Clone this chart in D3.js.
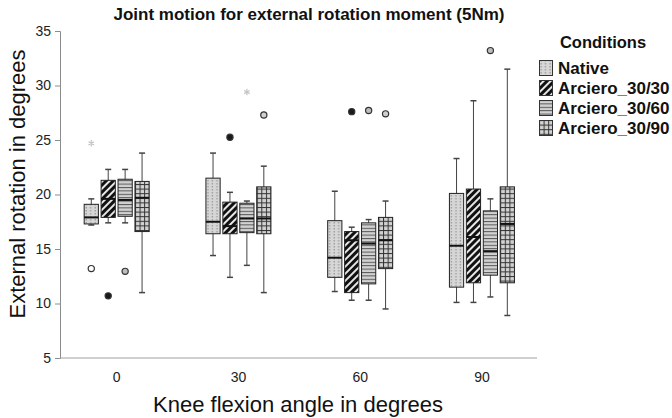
<!DOCTYPE html>
<html>
<head>
<meta charset="utf-8">
<script src="https://cdn.jsdelivr.net/npm/d3@7"></script>
<style>
  body { margin: 0; background: #fff; }
  text { font-family: "Liberation Sans", Arial, sans-serif; }
</style>
</head>
<body>
<script>
const largura = 672;
const altura = 418;

// dados
const angulos = ["0", "30", "60", "90"];
const condicoes = ["Native", "Arciero_30/30", "Arciero_30/60", "Arciero_30/90"];
const yTicks = [5, 10, 15, 20, 25, 30, 35];

// cada linha = condicao, cada coluna = angulo
const bigodeMin = [
  [17.2, 14.4, 11.1, 10.1],
  [17.4, 12.4, 10.3, 10.1],
  [17.4, 13.5, 10.3, 10.6],
  [11.0, 11.0, 9.5, 8.9]
];
const q1 = [
  [17.3, 16.4, 12.4, 11.5],
  [17.9, 16.4, 11.0, 11.9],
  [18.0, 16.5, 11.8, 12.6],
  [16.6, 16.4, 13.2, 11.9]
];
const mediana = [
  [17.9, 17.5, 14.2, 15.3],
  [19.6, 17.1, 15.8, 16.1],
  [19.5, 17.8, 15.5, 14.8],
  [19.7, 17.8, 15.8, 17.3]
];
const q3 = [
  [19.1, 21.5, 17.6, 20.1],
  [21.3, 19.3, 16.6, 20.5],
  [21.4, 19.2, 17.4, 18.5],
  [21.2, 20.7, 17.9, 20.7]
];
const bigodeMax = [
  [19.6, 23.8, 20.3, 23.3],
  [22.3, 20.2, 17.0, 28.6],
  [22.3, 19.4, 17.7, 19.6],
  [23.8, 22.6, 19.4, 31.5]
];
// [angulo, condicao, valor]
const outliers = [
  ["0", 0, 13.2], ["0", 1, 10.7], ["0", 2, 12.95],
  ["30", 1, 25.25], ["30", 3, 27.3],
  ["60", 1, 27.6], ["60", 2, 27.7], ["60", 3, 27.4],
  ["90", 2, 33.2]
];
const extremos = [
  ["0", 0, 24.7], ["30", 2, 29.4]
];

const corOutlier = ["#ffffff", "#1a1a1a", "#bdbdbd", "#cfcfcf"];

const svg = d3.select("body").append("svg")
  .attr("width", largura)
  .attr("height", altura);

// padroes de preenchimento
const defs = svg.append("defs");

const pNative = defs.append("pattern").attr("id", "p0")
  .attr("patternUnits", "userSpaceOnUse").attr("width", 4.5).attr("height", 3);
pNative.append("rect").attr("width", 4.5).attr("height", 3).attr("fill", "#d6d6d6");
pNative.append("rect").attr("x", 1.5).attr("y", 0).attr("width", 1).attr("height", 1.5).attr("fill", "#8a8a8a");

const pDiag = defs.append("pattern").attr("id", "p1")
  .attr("patternUnits", "userSpaceOnUse").attr("width", 5).attr("height", 5)
  .attr("patternTransform", "rotate(45)");
pDiag.append("rect").attr("width", 5).attr("height", 5).attr("fill", "#e6e6e6");
pDiag.append("rect").attr("width", 3).attr("height", 5).attr("fill", "#111");

const pHoriz = defs.append("pattern").attr("id", "p2")
  .attr("patternUnits", "userSpaceOnUse").attr("width", 4).attr("height", 3.4);
pHoriz.append("rect").attr("width", 4).attr("height", 3.4).attr("fill", "#d2d2d2");
pHoriz.append("rect").attr("y", 0).attr("width", 4).attr("height", 1).attr("fill", "#555");

const pGrid = defs.append("pattern").attr("id", "p3")
  .attr("patternUnits", "userSpaceOnUse").attr("width", 4.6).attr("height", 4.6);
pGrid.append("rect").attr("width", 4.6).attr("height", 4.6).attr("fill", "#d2d2d2");
pGrid.append("rect").attr("width", 4.6).attr("height", 1).attr("fill", "#333");
pGrid.append("rect").attr("width", 1).attr("height", 4.6).attr("fill", "#333");

// escalas
const x = d3.scaleBand().domain(angulos).range([55.8, 542.8]);
const xCond = d3.scaleBand().domain(d3.range(condicoes.length))
  .range([-32.5, 32.5]).paddingInner(0.16);
const y = d3.scaleLinear().domain([5, 35]).range([358, 31]);

// eixo y
const eixoY = svg.append("g")
  .attr("transform", "translate(60,0)")
  .call(d3.axisLeft(y).tickValues(yTicks).tickSize(5).tickPadding(4));
eixoY.select(".domain").attr("stroke", "#8c8c8c");
eixoY.selectAll(".tick line").attr("stroke", "#8c8c8c");
eixoY.selectAll(".tick text")
  .attr("font-size", 14).attr("fill", "#222")
  .attr("font-family", "'Liberation Sans', Arial, sans-serif");

// eixo x
const eixoX = svg.append("g")
  .attr("transform", "translate(0,358)")
  .call(d3.axisBottom(x).tickSize(0).tickPadding(14));
eixoX.select(".domain").remove();
eixoX.selectAll(".tick text")
  .attr("font-size", 14).attr("fill", "#222")
  .attr("font-family", "'Liberation Sans', Arial, sans-serif");
svg.append("line")
  .attr("x1", 60).attr("x2", 537).attr("y1", 358).attr("y2", 358)
  .attr("stroke", "#a0a0a0");

// caixas
const caixas = [];
condicoes.forEach((c, i) => {
  angulos.forEach((a, j) => {
    caixas.push({
      ang: a, cond: i,
      lo: bigodeMin[i][j], q1: q1[i][j], med: mediana[i][j],
      q3: q3[i][j], hi: bigodeMax[i][j]
    });
  });
});

const w = xCond.bandwidth();
const g = svg.append("g").selectAll("g").data(caixas).join("g")
  .attr("transform", d => `translate(${x(d.ang) + x.bandwidth() / 2 + xCond(d.cond)},0)`);

g.append("line")
  .attr("x1", w / 2).attr("x2", w / 2)
  .attr("y1", d => y(d.hi)).attr("y2", d => y(d.lo))
  .attr("stroke", "#444");
g.append("line")
  .attr("x1", w / 2 - 3).attr("x2", w / 2 + 3)
  .attr("y1", d => y(d.hi)).attr("y2", d => y(d.hi))
  .attr("stroke", "#444").attr("stroke-width", 1.5);
g.append("line")
  .attr("x1", w / 2 - 3).attr("x2", w / 2 + 3)
  .attr("y1", d => y(d.lo)).attr("y2", d => y(d.lo))
  .attr("stroke", "#444").attr("stroke-width", 1.5);
g.append("rect")
  .attr("x", 0).attr("width", w)
  .attr("y", d => y(d.q3)).attr("height", d => y(d.q1) - y(d.q3))
  .attr("fill", d => `url(#p${d.cond})`)
  .attr("stroke", "#222").attr("stroke-width", 1);
g.append("line")
  .attr("x1", 0).attr("x2", w)
  .attr("y1", d => y(d.med)).attr("y2", d => y(d.med))
  .attr("stroke", "#111").attr("stroke-width", 2);

// outliers
svg.append("g").selectAll("circle").data(outliers).join("circle")
  .attr("cx", d => x(d[0]) + x.bandwidth() / 2 + xCond(d[1]) + w / 2)
  .attr("cy", d => y(d[2]))
  .attr("r", 3.1)
  .attr("fill", d => corOutlier[d[1]])
  .attr("stroke", "#333").attr("stroke-width", 1.2);

svg.append("g").selectAll("path").data(extremos).join("path")
  .attr("transform", d => `translate(${x(d[0]) + x.bandwidth() / 2 + xCond(d[1]) + w / 2},${y(d[2])})`)
  .attr("d", d3.symbol(d3.symbolAsterisk, 28))
  .attr("fill", "none")
  .attr("stroke", "#c4c4c4").attr("stroke-width", 1.2);

// titulos
svg.append("text")
  .attr("x", 309).attr("y", 20)
  .attr("text-anchor", "middle")
  .attr("font-size", 17).attr("font-weight", "bold")
  .attr("fill", "#111")
  .text("Joint motion for external rotation moment (5Nm)");

svg.append("text")
  .attr("transform", "translate(25,184) rotate(-90)")
  .attr("text-anchor", "middle")
  .attr("font-size", 22)
  .attr("fill", "#111")
  .text("External rotation in degrees");

svg.append("text")
  .attr("x", 298).attr("y", 412)
  .attr("text-anchor", "middle")
  .attr("font-size", 22)
  .attr("fill", "#111")
  .text("Knee flexion angle in degrees");

// legenda
const leg = svg.append("g").attr("transform", "translate(539,0)");
leg.append("text")
  .attr("x", 64).attr("y", 48)
  .attr("text-anchor", "middle")
  .attr("font-size", 16.5).attr("font-weight", "bold")
  .attr("fill", "#111")
  .text("Conditions");

const itens = leg.selectAll(".item").data(condicoes).join("g")
  .attr("class", "item")
  .attr("transform", (d, i) => `translate(0,${60 + i * 20})`);
itens.append("rect")
  .attr("x", 0.5).attr("y", 0.5).attr("width", 13).attr("height", 15)
  .attr("fill", (d, i) => `url(#p${i})`)
  .attr("stroke", "#333");
itens.append("text")
  .attr("x", 19).attr("y", 14)
  .attr("font-size", 17).attr("font-weight", "bold")
  .attr("fill", "#111")
  .text(d => d);
</script>
</body>
</html>
